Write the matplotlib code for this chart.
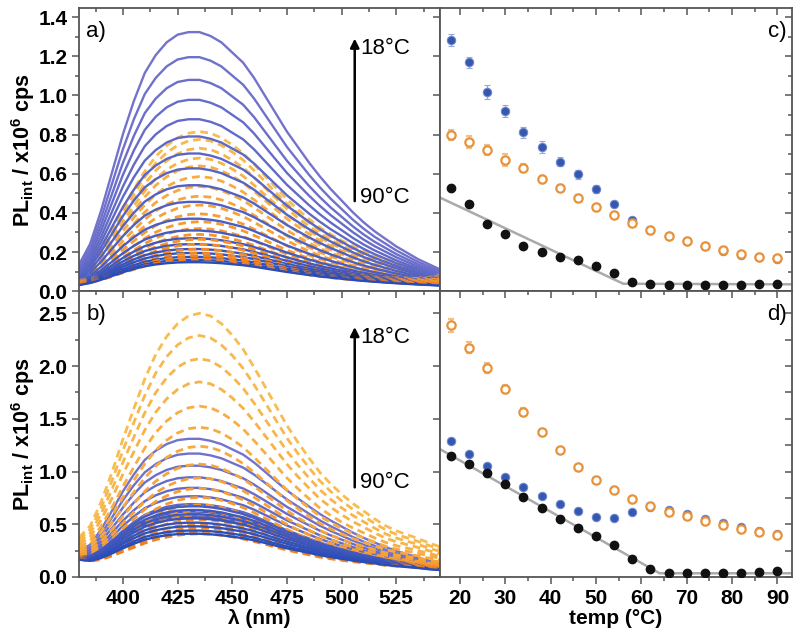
import numpy as np
import matplotlib
matplotlib.use('Agg')
import matplotlib.pyplot as plt
from matplotlib.ticker import MultipleLocator, FormatStrFormatter

plt.rcParams['font.family'] = ['Liberation Sans', 'DejaVu Sans']
plt.rcParams['mathtext.fontset'] = 'custom'
plt.rcParams['mathtext.rm'] = 'Liberation Sans:bold'
plt.rcParams['mathtext.it'] = 'Liberation Sans:bold'
plt.rcParams['mathtext.default'] = 'regular'

# ---- data ----
temps = [18, 22, 26, 30, 34, 38, 42, 46, 50, 54, 58, 62, 66, 70, 74, 78, 82, 86, 90]
wl = np.arange(380, 546, 5)

# normalised spectral line shapes (380..545 nm, 5 nm step)
shape_blue = [0.09, 0.17, 0.30, 0.45, 0.60, 0.73, 0.84, 0.91, 0.96, 0.99, 1.00, 1.00,
              0.985, 0.96, 0.92, 0.88, 0.82, 0.75, 0.68, 0.61, 0.55, 0.49, 0.435, 0.385,
              0.34, 0.295, 0.255, 0.22, 0.19, 0.16, 0.135, 0.11, 0.09, 0.07]
shape_orange = [0.10, 0.16, 0.26, 0.38, 0.51, 0.63, 0.745, 0.84, 0.91, 0.96, 0.99, 1.00,
                0.99, 0.96, 0.915, 0.86, 0.79, 0.715, 0.64, 0.565, 0.50, 0.44, 0.385, 0.34,
                0.30, 0.265, 0.235, 0.205, 0.18, 0.16, 0.145, 0.13, 0.115, 0.10]
# background under the spectra
bg_a = [0.02] * 34
bg_b = [0.14, 0.10, 0.08, 0.07, 0.065, 0.06, 0.06, 0.06, 0.06, 0.06, 0.06, 0.06,
        0.06, 0.06, 0.06, 0.06, 0.06, 0.06, 0.055, 0.055, 0.055, 0.055, 0.05, 0.05,
        0.05, 0.05, 0.05, 0.05, 0.045, 0.045, 0.045, 0.045, 0.04, 0.04]

# peak heights of each spectrum, 18 -> 90 C
peak_a_blue = [1.323, 1.195, 1.079, 0.977, 0.878, 0.79, 0.703, 0.627, 0.541, 0.456,
               0.37, 0.31, 0.27, 0.24, 0.215, 0.195, 0.175, 0.16, 0.148]
peak_a_orange = [0.815, 0.775, 0.73, 0.68, 0.64, 0.585, 0.535, 0.485, 0.44, 0.395,
                 0.355, 0.32, 0.29, 0.265, 0.24, 0.215, 0.195, 0.18, 0.165]
peak_b_blue = [1.31, 1.17, 1.055, 0.945, 0.845, 0.765, 0.69, 0.625, 0.575, 0.565,
               0.62, 0.67, 0.635, 0.595, 0.555, 0.515, 0.48, 0.44, 0.41]
peak_b_orange = [2.50, 2.29, 2.07, 1.85, 1.62, 1.42, 1.24, 1.07, 0.94, 0.84,
                 0.755, 0.685, 0.63, 0.59, 0.545, 0.50, 0.465, 0.435, 0.41]

# integrated PL vs temperature
c_blue = [1.284, 1.168, 1.016, 0.920, 0.811, 0.738, 0.662, 0.596, 0.522, 0.444,
          0.362, 0.312, 0.280, 0.254, 0.229, 0.205, 0.185, 0.174, 0.164]
c_blue_err = [0.03, 0.03, 0.035, 0.03, 0.03, 0.03, 0.025, 0.025, 0.02, 0.015,
              0.01, 0.01, 0.01, 0.01, 0.01, 0.01, 0.01, 0.01, 0.01]
c_orange = [0.797, 0.763, 0.719, 0.671, 0.630, 0.575, 0.526, 0.476, 0.430, 0.388,
            0.348, 0.314, 0.283, 0.258, 0.232, 0.210, 0.191, 0.176, 0.169]
c_orange_err = [0.025, 0.03, 0.025, 0.03, 0.02, 0.015, 0.015, 0.015, 0.01, 0.01,
                0.01, 0.01, 0.01, 0.01, 0.01, 0.01, 0.01, 0.01, 0.01]
c_black = [0.528, 0.447, 0.341, 0.294, 0.229, 0.200, 0.174, 0.157, 0.128, 0.092,
           0.046, 0.036, 0.034, 0.034, 0.034, 0.034, 0.033, 0.035, 0.036]
c_fit_t = [15.6, 56, 93]
c_fit_y = [0.478, 0.038, 0.035]

d_blue = [1.294, 1.165, 1.051, 0.950, 0.852, 0.767, 0.691, 0.625, 0.571, 0.559,
          0.616, 0.666, 0.634, 0.593, 0.549, 0.508, 0.473, 0.436, 0.407]
d_blue_err = [0.02] * 5 + [0.015] * 14
d_orange = [2.386, 2.175, 1.982, 1.780, 1.569, 1.376, 1.203, 1.045, 0.919, 0.824,
            0.739, 0.672, 0.619, 0.578, 0.533, 0.492, 0.455, 0.429, 0.401]
d_orange_err = [0.06, 0.05, 0.05, 0.04, 0.03, 0.03, 0.02, 0.02, 0.02, 0.02,
                0.015, 0.015, 0.015, 0.015, 0.015, 0.015, 0.015, 0.015, 0.015]
d_black = [1.146, 1.070, 0.982, 0.878, 0.761, 0.653, 0.552, 0.461, 0.391, 0.303,
           0.174, 0.073, 0.041, 0.041, 0.041, 0.041, 0.041, 0.05, 0.057]
d_fit_t = [15.6, 64, 93]
d_fit_y = [1.212, 0.035, 0.035]

# ---- figure ----
fig = plt.figure(figsize=(8, 6.33), dpi=100)
ax_a = fig.add_axes([0.099, 0.540, 0.451, 0.447])
ax_b = fig.add_axes([0.099, 0.0885, 0.451, 0.4515])
ax_c = fig.add_axes([0.550, 0.540, 0.440, 0.447])
ax_d = fig.add_axes([0.550, 0.0885, 0.440, 0.4515])

blue_cold = np.array([0.45, 0.45, 0.80])
blue_hot = np.array([0.16, 0.30, 0.72])
orng_cold = np.array([0.97, 0.74, 0.32])
orng_hot = np.array([0.96, 0.50, 0.10])


def spectra(ax, bg, pk_blue, pk_orange):
    bg = np.array(bg)
    n = len(temps)
    for i in range(n):
        f = i / (n - 1)
        yo = bg + (pk_orange[i] - bg) * np.array(shape_orange)
        ax.plot(wl, yo, ls=(0, (2.8, 1.8)), lw=2.0, color=orng_cold * (1 - f) + orng_hot * f)
        yb = bg + (pk_blue[i] - bg) * np.array(shape_blue)
        ax.plot(wl, yb, lw=1.7, color=blue_cold * (1 - f) + blue_hot * f)


spectra(ax_a, bg_a, peak_a_blue, peak_a_orange)
spectra(ax_b, bg_b, peak_b_blue, peak_b_orange)


def points(ax, blue, blue_err, orange, orange_err, black, ft, fy):
    ax.plot(ft, fy, color='#aaaaaa', lw=1.8, zorder=1)
    ax.errorbar(temps, blue, yerr=blue_err, fmt='o', ms=6, color='#3457b2',
                mec='#6f86c8', mew=0.8, ecolor='#9aaad8', elinewidth=1, capsize=2, zorder=3)
    ax.errorbar(temps, orange, yerr=orange_err, fmt='o', ms=6, mfc='white',
                mec='#e8923a', mew=1.6, ecolor='#f0c08c', elinewidth=1, capsize=2, zorder=4)
    ax.plot(temps, black, 'o', ms=6, color='#111111', zorder=5)


points(ax_c, c_blue, c_blue_err, c_orange, c_orange_err, c_black, c_fit_t, c_fit_y)
points(ax_d, d_blue, d_blue_err, d_orange, d_orange_err, d_black, d_fit_t, d_fit_y)

for ax in (ax_a, ax_b, ax_c, ax_d):
    for s in ax.spines.values():
        s.set_color('#555555')
        s.set_linewidth(1.3)
    ax.tick_params(which='both', colors='#555555', labelcolor='black', width=1.1,
                   labelsize=15)
    ax.tick_params(which='major', length=5)
    ax.tick_params(which='minor', length=3)

for ax in (ax_a, ax_b):
    ax.set_xlim(380, 545)
    ax.xaxis.set_major_locator(MultipleLocator(25))
    ax.xaxis.set_minor_locator(MultipleLocator(12.5))
    ax.tick_params(which='both', top=True, right=True, direction='out')
    for t in ax.xaxis.get_major_ticks() + ax.xaxis.get_minor_ticks():
        t.tick2line.set_marker(3)  # top ticks point inward
    for t in ax.yaxis.get_major_ticks() + ax.yaxis.get_minor_ticks():
        t.tick2line.set_marker(0)  # right ticks point inward

for ax in (ax_c, ax_d):
    ax.set_xlim(15.6, 93.2)
    ax.xaxis.set_major_locator(MultipleLocator(10))
    ax.xaxis.set_minor_locator(MultipleLocator(5))
    ax.tick_params(which='both', axis='x', top=True, bottom=True, direction='out')
    ax.tick_params(which='both', axis='y', left=False, right=True, labelleft=False,
                   direction='in')
    for t in ax.xaxis.get_major_ticks() + ax.xaxis.get_minor_ticks():
        t.tick2line.set_marker(3)

ax_a.set_ylim(0, 1.445)
ax_c.set_ylim(0, 1.445)
ax_a.yaxis.set_major_locator(MultipleLocator(0.2))
ax_a.yaxis.set_minor_locator(MultipleLocator(0.1))
ax_c.yaxis.set_major_locator(MultipleLocator(0.2))
ax_c.yaxis.set_minor_locator(MultipleLocator(0.1))
ax_b.set_ylim(0, 2.71)
ax_d.set_ylim(0, 2.71)
ax_b.yaxis.set_major_locator(MultipleLocator(0.5))
ax_b.yaxis.set_minor_locator(MultipleLocator(0.25))
ax_d.yaxis.set_major_locator(MultipleLocator(0.25))
ax_d.yaxis.set_minor_locator(MultipleLocator(0.25))

ax_a.yaxis.set_major_formatter(FormatStrFormatter('%.1f'))
ax_b.yaxis.set_major_formatter(FormatStrFormatter('%.1f'))
for ax in (ax_a, ax_c):
    ax.tick_params(labelbottom=False)
for ax in (ax_a, ax_b, ax_c, ax_d):
    for lab in ax.get_xticklabels() + ax.get_yticklabels():
        lab.set_fontweight('bold')

ylab = r'PL$_{int}$ / x10$^{6}$ cps'
ax_a.set_ylabel(ylab, fontsize=15.5, fontweight='bold', labelpad=1)
ax_b.set_ylabel(ylab, fontsize=15.5, fontweight='bold', labelpad=1)
ax_b.set_xlabel('λ (nm)', fontsize=15, fontweight='bold', labelpad=1)
ax_d.set_xlabel('temp (°C)', fontsize=15, fontweight='bold', labelpad=1)

ax_a.text(0.02, 0.955, 'a)', transform=ax_a.transAxes, fontsize=16, va='top')
ax_b.text(0.02, 0.955, 'b)', transform=ax_b.transAxes, fontsize=16, va='top')
ax_c.text(0.985, 0.955, 'c)', transform=ax_c.transAxes, fontsize=16, va='top', ha='right')
ax_d.text(0.985, 0.955, 'd)', transform=ax_d.transAxes, fontsize=16, va='top', ha='right')

for ax, ytop, ybot, t18, t90 in ((ax_a, 1.29, 0.46, 1.24, 0.48),
                                 (ax_b, 2.37, 0.85, 2.27, 0.90)):
    ax.annotate('', xy=(506, ytop), xytext=(506, ybot),
                arrowprops=dict(arrowstyle='-|>', color='black', lw=1.8,
                                mutation_scale=13, shrinkA=0, shrinkB=0))
    ax.text(508.5, t18, '18°C', fontsize=16, va='center')
    ax.text(508.5, t90, '90°C', fontsize=16, va='center')

fig.savefig('out.png', dpi=100)
